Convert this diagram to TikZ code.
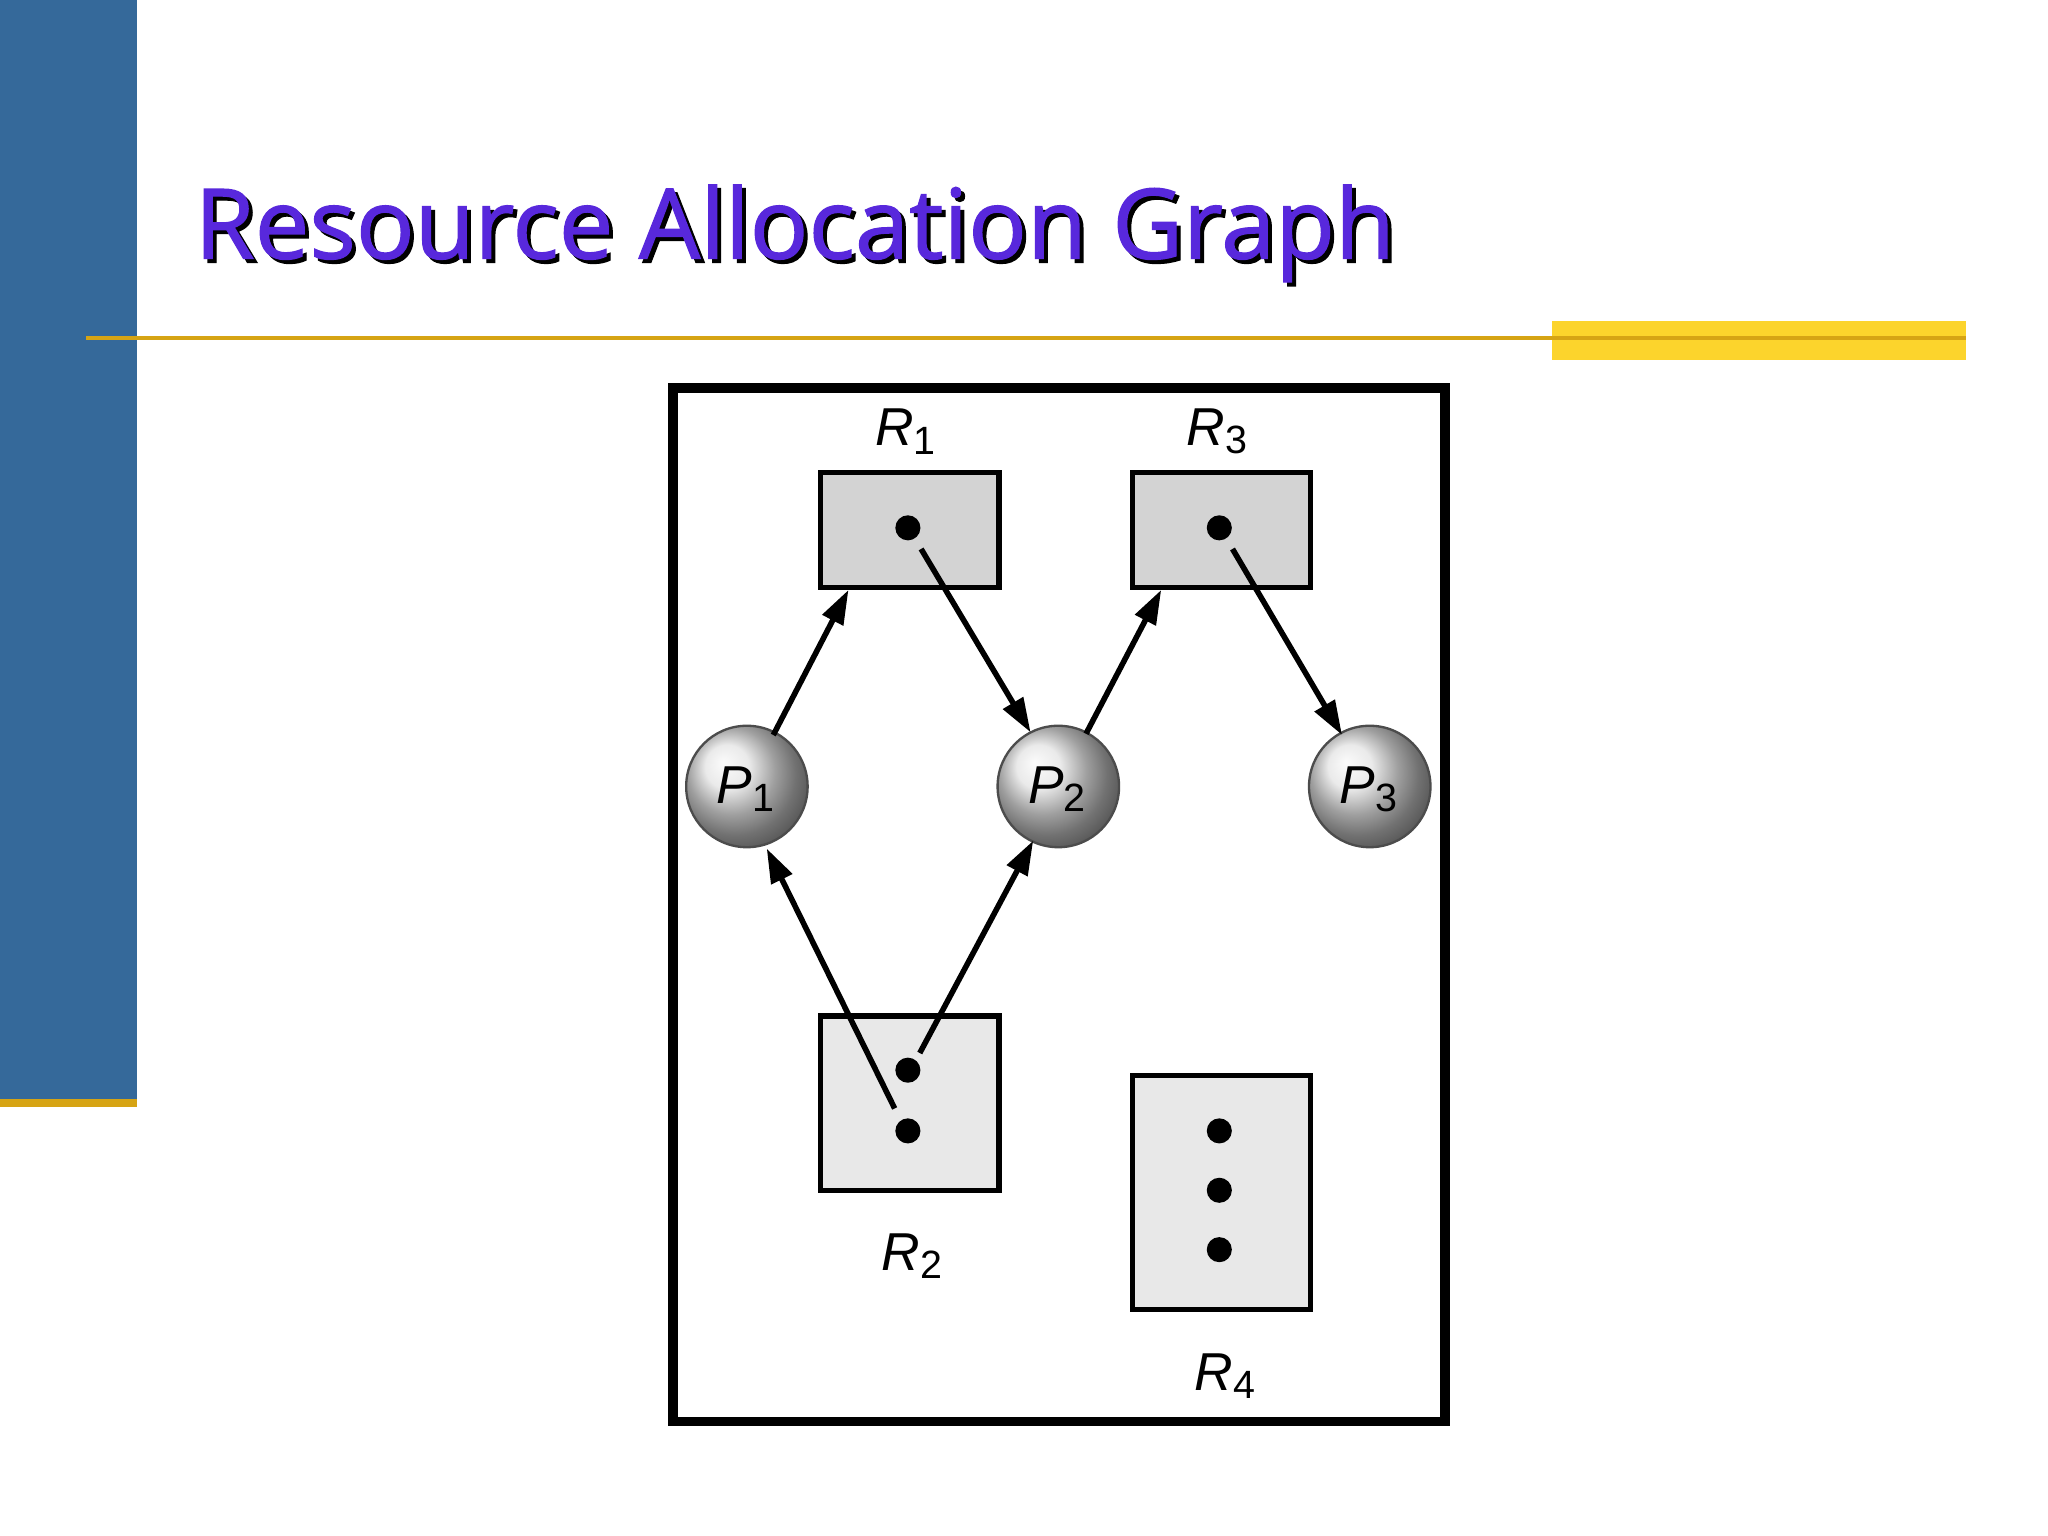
\documentclass[tikz,border=0pt]{standalone}
\usepackage{fontspec}
\setmainfont{Liberation Sans}
\newfontfamily\titlefont[FakeBold=1.2]{Open Sans}
\usetikzlibrary{arrows.meta}
\definecolor{sideblue}{RGB}{53,105,154}
\definecolor{goldline}{RGB}{214,164,20}
\definecolor{yelbar}{RGB}{252,212,44}
\definecolor{tpurple}{RGB}{88,40,220}
\definecolor{rdark}{RGB}{211,211,211}
\definecolor{rlight}{RGB}{232,232,232}
\tikzset{
  res/.style={draw=black, line width=1.1pt, minimum width=1.35cm, inner sep=0pt},
  proc/.style={draw=black!70, line width=0.5pt, circle, minimum size=0.92cm, inner sep=0pt, shading=ball, ball color=gray!22},
  dot/.style={circle, fill=black, minimum size=0.19cm, inner sep=0pt},
  edge/.style={line width=1.2pt, -{Triangle[length=0.26cm,width=0.17cm]}},
  lbl/.style={font=\fontsize{11.5}{12}\selectfont}
}
\newcommand{\lab}[2]{\textit{#1}\textsubscript{\fontsize{8.5}{10}\selectfont #2}}
\begin{document}
\begin{tikzpicture}[x=0.01cm,y=-0.01cm]
\useasboundingbox (0,0) rectangle (1552,1164);
\fill[white] (0,0) rectangle (1552,1164);
% decorations
\fill[sideblue] (0,0) rectangle (104,833);
\fill[goldline] (0,833) rectangle (104,839);
\fill[yelbar] (1176,243) rectangle (1490,273);
\draw[goldline, line width=0.8pt] (65,256) -- (1490,256);
% title
\node[anchor=base west, text=black, font=\titlefont\fontsize{21}{26}\selectfont] (tsh) at (138,199) {Resource Allocation Graph};
\node[anchor=base west, text=tpurple, font=\titlefont\fontsize{21}{26}\selectfont] (title) at (135,196) {Resource Allocation Graph};
% frame
\draw[line width=2pt] (510,294) rectangle (1095,1077);
% resources
\node[res, fill=rdark, minimum height=0.87cm] (R1) at (689.5,401.5) {};
\node[res, fill=rdark, minimum height=0.87cm] (R3) at (925.5,401.5) {};
\node[res, fill=rlight, minimum height=1.32cm] (R2) at (689.5,836) {};
\node[res, fill=rlight, minimum height=1.77cm] (R4) at (925.5,903.5) {};
\node[dot] (d1) at (688,400) {};
\node[dot] (d3) at (924,400) {};
\node[dot] (d2a) at (688,811) {};
\node[dot] (d2b) at (688,857) {};
\node[dot] (d4a) at (924,857) {};
\node[dot] (d4b) at (924,902) {};
\node[dot] (d4c) at (924,947) {};
% processes
\node[proc] (P1) at (566,596) {};
\node[proc] (P2) at (802,596) {};
\node[proc] (P3) at (1038,596) {};
\node[lbl] at (566,598) {\lab{P}{1}};
\node[lbl] at (802,598) {\lab{P}{2}};
\node[lbl] at (1038,598) {\lab{P}{3}};
% labels
\node[lbl] (lR1) at (687,327) {\lab{R}{1}};
\node[lbl] (lR3) at (923,327) {\lab{R}{3}};
\node[lbl] (lR2) at (692,952) {\lab{R}{2}};
\node[lbl] (lR4) at (929,1043) {\lab{R}{4}};
% edge endpoints
\coordinate (e1) at (643,447);
\coordinate (e3) at (880,447);
\coordinate (s1) at (586,557);
\coordinate (s2) at (823,556);
\coordinate (t2) at (781,555);
\coordinate (t3) at (1017,557);
\coordinate (t1) at (581,643);
\coordinate (t2b) at (783,637);
\draw[edge] (s1) -- (e1);
\draw[edge] (s2) -- (e3);
\draw[edge] ([shift={(10,16)}]d1.center) -- (t2);
\draw[edge] ([shift={(10,16)}]d3.center) -- (t3);
\draw[edge] ([shift={(-10,-17)}]d2b.center) -- (t1);
\draw[edge] ([shift={(9,-13)}]d2a.center) -- (t2b);
\end{tikzpicture}
\end{document}
